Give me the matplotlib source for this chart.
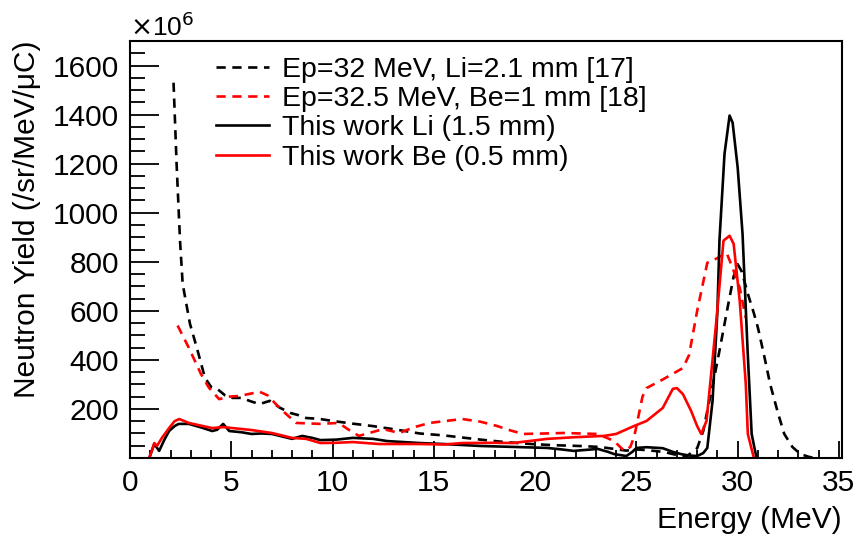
import matplotlib
matplotlib.use("Agg")
import matplotlib.pyplot as plt
from matplotlib.ticker import MultipleLocator

plt.rcParams['font.family'] = ['Liberation Sans', 'DejaVu Sans']

# Ep=32 MeV, Li=2.1 mm [17]
li17_e = [2.15, 2.3, 2.47, 2.6, 2.96, 3.3, 3.7, 4.0, 4.3, 4.7, 5.05, 5.5, 6.0, 6.4,
          6.9, 7.4, 7.9, 8.3, 8.7, 9.3, 10.0, 11.0, 12.0, 13.2, 14.3, 15.5, 17.3,
          18.5, 19.8, 21.0, 22.2, 23.2, 23.9, 24.5, 25.0, 25.5, 26.0, 26.5, 27.0,
          27.5, 28.0, 28.3, 28.5, 28.8, 29.1, 29.5, 29.8, 30.0, 30.2, 30.5, 30.8,
          31.0, 31.3, 31.6, 32.0, 32.3, 32.7, 33.1, 33.5, 33.8]
li17_y = [1530, 1200, 885, 710, 547, 449, 327, 290, 282, 255, 245, 245, 230, 220,
          233, 205, 184, 175, 163, 160, 151, 140, 130, 115, 100, 92, 75,
          65, 57, 52, 49, 45, 37, 30, 35, 32, 28, 22, 12,
          8, 40, 110, 192, 310, 437, 612, 740, 790, 760, 670, 590,
          531, 420, 302, 180, 98, 45, 16, 5, 0]

# Ep=32.5 MeV, Be=1 mm [18]
be18_e = [2.35, 2.9, 3.5, 3.9, 4.4, 4.9, 5.4, 6.4, 6.8, 7.2, 7.7, 8.2, 9.4, 10.3,
          10.8, 11.3, 12.5, 13.3, 14.0, 14.8, 15.5, 16.4, 17.3, 18.1, 18.8, 19.4,
          20.5, 21.4, 23.1, 23.9, 24.4, 24.7, 24.9, 25.3, 25.5, 26.3, 27.3, 27.6,
          28.0, 28.5, 29.0, 29.45, 29.75, 30.1, 30.4]
be18_y = [540, 450, 343, 286, 240, 250, 253, 270, 255, 220, 180, 143, 139, 143,
          115, 90, 118, 102, 125, 143, 150, 159, 148, 131, 112, 98,
          100, 102, 98, 69, 29, 45, 90, 250, 285, 320, 367, 420,
          600, 796, 815, 837, 775, 694, 571]

# This work Li (1.5 mm)
li_e = [0.95, 1.2, 1.44, 1.7, 1.93, 2.2, 2.4, 2.9, 3.5, 4.06, 4.3, 4.6, 4.9, 5.5,
        6.0, 6.5, 7.0, 7.5, 8.0, 8.5, 9.0, 9.4, 10.2, 11.0, 12.0, 12.7, 14.3,
        15.5, 17.3, 19.0, 20.6, 21.3, 21.9, 22.5, 23.1, 23.6, 23.9, 24.5, 24.8,
        25.0, 25.5, 26.3, 26.8, 27.2, 27.6, 28.0, 28.3, 28.5, 28.76, 29.0, 29.1,
        29.35, 29.6, 29.75, 30.0, 30.24, 30.49, 30.69, 30.93]
li_y = [0, 57, 29, 75, 110, 130, 139, 139, 125, 110, 115, 139, 110, 105,
        98, 100, 98, 88, 78, 90, 82, 73, 75, 82, 78, 69, 61,
        57, 49, 45, 41, 35, 29, 33, 37, 25, 16, 8, 25,
        41, 44, 40, 25, 16, 10, 8, 20, 41, 233, 600, 886,
        1240, 1396, 1367, 1184, 914, 437, 98, 0]

# This work Be (0.5 mm)
be_e = [0.95, 1.2, 1.33, 1.6, 1.93, 2.2, 2.43, 2.9, 3.5, 4.06, 4.6, 5.3, 6.0, 6.5,
        7.0, 7.5, 8.0, 8.7, 9.4, 10.2, 11.0, 12.3, 14.3, 15.5, 16.4, 18.0, 18.9,
        20.6, 22.0, 23.4, 24.0, 24.9, 25.5, 26.3, 26.8, 27.0, 27.3, 27.7, 28.0,
        28.2, 28.46, 28.7, 28.96, 29.3, 29.6, 29.8, 30.1, 30.4, 30.5, 30.8]
be_y = [0, 61, 49, 85, 122, 150, 159, 143, 132, 122, 126, 120, 114, 108,
        102, 92, 82, 78, 61, 62, 65, 57, 57, 55, 61, 62, 61,
        78, 85, 90, 98, 131, 151, 204, 282, 285, 260, 192, 130,
        98, 151, 350, 571, 886, 906, 873, 641, 302, 98, 0]

labels = ['Ep=32 MeV, Li=2.1 mm [17]', 'Ep=32.5 MeV, Be=1 mm [18]',
          'This work Li (1.5 mm)', 'This work Be (0.5 mm)']

fs = 21.5
fig = plt.figure(figsize=(8.58, 5.38), dpi=100)
ax = fig.add_axes([130/858, 1-458/538, 712/858, 417/538])

lw = 1.9
ax.plot(li17_e, li17_y, color='black', lw=lw, dashes=(3.5, 2.5), label=labels[0])
ax.plot(be18_e, be18_y, color='red', lw=lw, dashes=(3.5, 2.5), label=labels[1])
ax.plot(li_e, li_y, color='black', lw=lw, label=labels[2])
ax.plot(be_e, be_y, color='red', lw=lw, label=labels[3])

ax.set_xlim(0, 35.15)
ax.set_ylim(0, 1700)
ax.set_xticks([0, 5, 10, 15, 20, 25, 30, 35])
ax.set_yticks([200, 400, 600, 800, 1000, 1200, 1400, 1600])
ax.xaxis.set_minor_locator(MultipleLocator(1))
ax.yaxis.set_minor_locator(MultipleLocator(50))
ax.tick_params(which='both', direction='in', top=False, right=False,
               width=1.3, labelsize=fs)
ax.tick_params(axis='x', which='major', length=12, pad=8)
ax.tick_params(axis='x', which='minor', length=6)
ax.tick_params(axis='y', which='major', length=21, pad=8)
ax.tick_params(axis='y', which='minor', length=11)
for s in ax.spines.values():
    s.set_linewidth(1.5)

ax.set_xlabel('Energy (MeV)', fontsize=fs, loc='right')
ax.xaxis.set_label_coords(1.0, -0.115)
ax.set_ylabel('Neutron Yield (/sr/MeV/μC)', fontsize=fs, loc='top')
ax.yaxis.set_label_coords(-0.125, 1.0)
ax.text(0, 1.012, r'$\times$10$^{6}$', transform=ax.transAxes, fontsize=19,
        ha='left', va='baseline')

ax.legend(loc='upper left', bbox_to_anchor=(0.105, 0.99), frameon=False,
          fontsize=20.5, handlelength=1.86, handletextpad=0.45, labelspacing=0.12,
          borderaxespad=0)

fig.savefig('out.png', dpi=100)
